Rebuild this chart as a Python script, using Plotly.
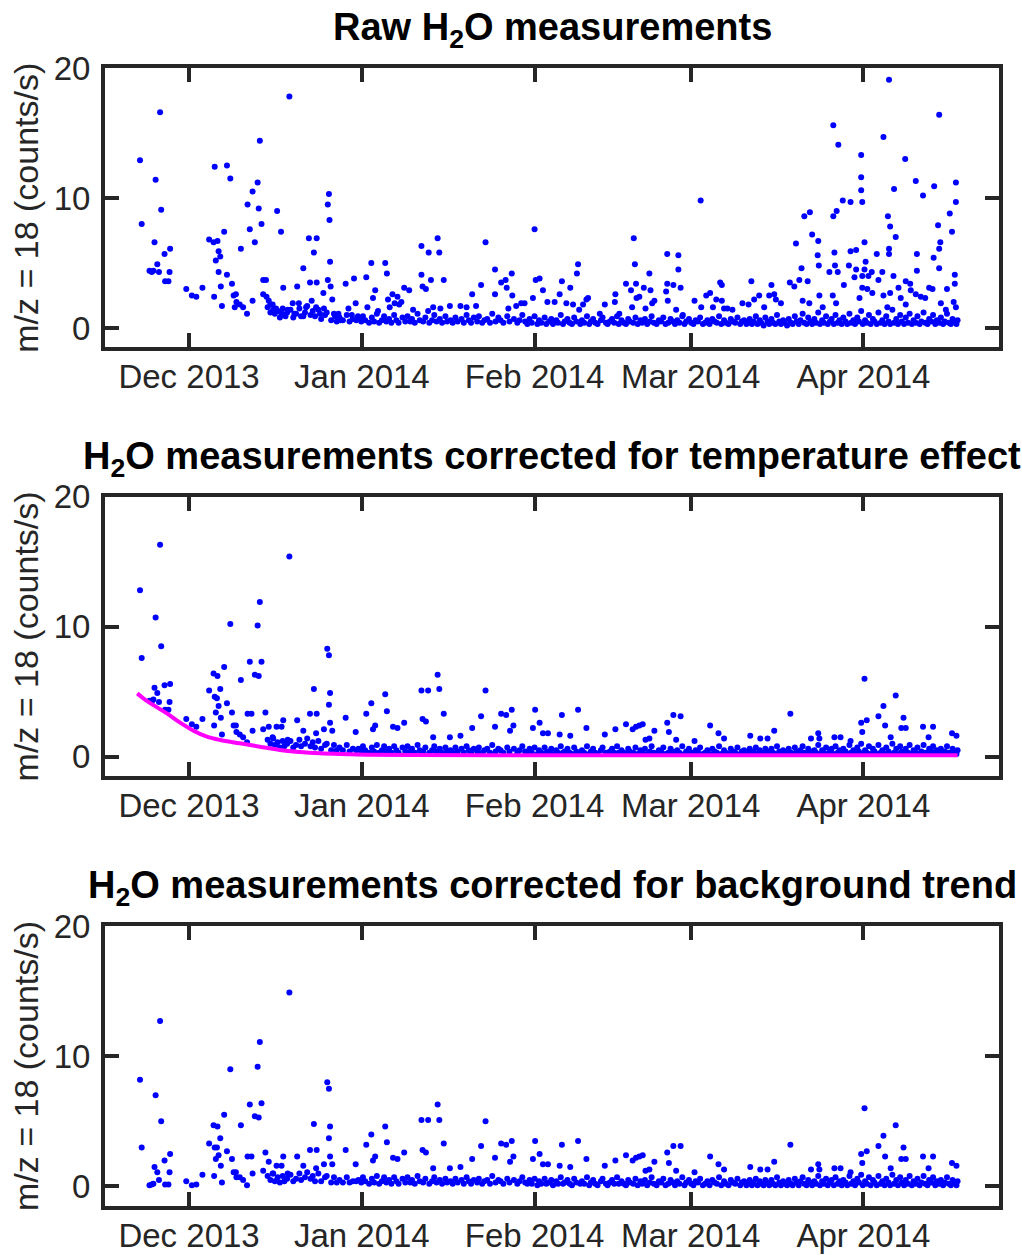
import pandas as pd
import plotly.graph_objects as go

# ---------------- DATA (days since 2013-12-01, counts/s) ----------------
# Panel 1: raw measurements (individually read points)
raw_days = [-8.8, -8.5, -7.1, -6.7, -6.4, -6.2, -6.0, -5.7, -5.4, -5.2, -5.0, -4.4, -4.3, -3.7, -3.5, -3.4,
            -0.5, 0.5, 1.3, 2.4, 3.6, 4.4, 4.5, 4.6, 4.8, 5.1, 5.3, 5.3, 5.6, 5.7, 5.9, 6.3, 6.8, 6.8, 7.4,
            7.7, 8.0, 8.2, 8.4, 8.5, 9.1, 9.3, 9.7, 10.4, 10.5, 10.9, 11.4, 11.4, 11.8, 12.3, 12.5, 12.7,
            13.0, 13.3, 13.3, 13.8, 13.9, 14.3, 14.6, 15.1, 15.6, 15.8, 16.5, 16.5, 16.9, 17.3, 17.7, 18.0,
            18.6, 18.9, 19.4, 19.7, 20.5, 20.5, 21.0, 21.5, 21.7, 22.0, 22.4, 22.8, 22.9, 22.9, 23.5, 24.1,
            24.2, 24.9, 24.9, 25.1, 25.2, 25.3, 25.4, 25.7, 26.2, 26.8, 27.2, 28.1, 28.6, 29.2, 29.6, 29.9,
            30.3, 31.8, 32.0, 32.7, 33.0, 33.4, 33.9, 35.2, 35.5, 35.7, 36.0, 36.5, 36.9, 37.4, 37.7, 38.1,
            38.6, 39.5, 40.2, 41.7, 41.7, 41.9, 42.5, 42.9, 43.0, 43.4, 43.8, 44.6, 44.9, 45.1, 45.7, 46.8,
            48.7, 49.8, 50.8, 51.5, 52.4, 53.2, 54.9, 54.9, 56.0, 56.8, 57.0, 57.3, 57.9, 58.0, 58.7, 59.6,
            60.2, 61.7, 62.0, 62.2, 62.9, 63.5, 64.3, 65.6, 66.5, 66.9, 67.7, 68.4, 68.9, 69.6, 69.8, 70.0,
            70.7, 71.3, 71.6, 73.7, 74.6, 76.4, 76.5, 77.2, 78.4, 79.3, 79.5, 79.8, 80.0, 80.2, 80.3, 80.8,
            81.6, 81.9, 82.6, 82.8, 83.1, 83.5, 85.6, 85.8, 85.8, 85.9, 86.9, 87.4, 87.8, 87.8, 88.2, 88.6,
            90.7, 91.8, 91.9, 92.8, 93.5, 94.0, 94.6, 95.3, 95.6, 95.6, 96.0, 96.6, 97.5, 99.3, 100.4, 100.9,
            101.4, 102.3, 103.2, 104.1, 104.5, 105.0, 105.3, 106.2, 107.8, 108.6, 108.9, 109.5, 109.9, 110.1,
            110.4, 111.0, 111.3, 111.4, 111.8, 112.8, 112.9, 113.0, 113.1, 113.7, 114.9, 115.5, 115.6, 115.6,
            115.8, 115.9, 116.1, 116.2, 116.4, 116.5, 117.3, 117.5, 118.4, 118.7, 118.7, 119.4, 119.7, 119.7,
            120.3, 120.6, 120.6, 120.6, 120.8, 120.8, 120.8, 121.2, 121.2, 121.4, 121.7, 121.9, 122.5, 122.6,
            123.4, 123.7, 124.4, 124.6, 124.6, 125.3, 125.4, 125.6, 125.6, 125.6, 125.8, 125.8, 126.4, 126.5,
            126.8, 127.3, 127.7, 128.5, 128.6, 128.6, 129.4, 129.5, 130.4, 130.4, 130.6, 130.6, 131.3, 131.7,
            132.1, 132.8, 133.4, 133.6, 133.7, 134.4, 134.6, 134.6, 134.6, 134.8, 134.9, 135.8, 136.0, 136.5,
            136.9, 137.2, 137.4, 137.4, 137.6, 137.6, 137.6]
raw_vals = [12.9, 8.0, 4.4, 4.3, 4.4, 6.6, 11.4, 4.9, 4.3, 16.6, 9.1, 5.7, 3.6, 3.6, 4.3, 6.1,
            3.0, 2.5, 2.4, 3.1, 6.8, 6.6, 2.4, 12.4, 5.2, 6.7, 5.9, 4.3, 5.5, 3.2, 1.7, 7.4, 12.5, 4.1, 11.5,
            3.4, 2.5, 1.6, 2.6, 2.0, 1.8, 6.1, 1.6, 1.1, 9.5, 7.6, 10.5, 2.1, 6.6, 11.2, 9.2, 14.4,
            8.0, 3.7, 2.6, 3.7, 2.4, 2.1, 1.8, 1.4, 1.5, 9.0, 7.4, 1.2, 3.1, 0.9, 1.4, 17.8,
            1.9, 1.1, 3.2, 1.9, 4.6, 0.9, 1.6, 6.9, 3.5, 2.1, 5.8, 1.6, 6.9, 3.5, 1.1, 2.7,
            1.5, 3.7, 9.5, 10.3, 8.3, 5.1, 3.2, 2.2, 0.9, 1.1, 0.6, 3.4, 1.5, 1.0, 3.8, 1.9,
            0.9, 3.9, 1.6, 5.0, 2.3, 2.9, 1.3, 5.0, 4.2, 2.2, 1.6, 2.6, 1.9, 2.4, 1.8, 2.0,
            3.1, 2.9, 1.4, 6.3, 4.1, 3.2, 3.0, 1.3, 5.8, 3.7, 1.6, 6.9, 5.8, 1.5, 3.7, 1.7,
            1.7, 1.6, 2.6, 1.7, 3.3, 6.6, 4.5, 2.6, 3.5, 3.7, 3.1, 1.5, 4.2, 2.5, 1.7, 1.9,
            1.9, 2.3, 7.6, 3.7, 3.8, 2.9, 2.0, 2.0, 2.6, 3.6, 1.9, 3.1, 1.8, 4.2, 4.9, 1.4,
            1.8, 2.2, 2.3, 1.1, 1.8, 2.0, 2.6, 1.1, 3.4, 2.9, 1.6, 6.9, 4.9, 3.4, 2.3, 2.4,
            3.1, 1.5, 4.2, 2.9, 1.9, 2.1, 2.8, 5.7, 3.4, 2.1, 3.3, 1.4, 5.6, 4.5, 3.1, 1.0,
            2.1, 9.8, 1.6, 2.5, 2.7, 1.6, 2.2, 3.5, 3.3, 2.1, 1.5, 1.5, 1.4, 1.9, 1.8, 3.6,
            2.2, 2.5, 1.6, 2.5, 3.3, 2.6, 2.2, 1.9, 3.5, 3.2, 6.5, 3.7, 4.6, 2.1,
            8.6, 3.6, 1.9, 8.9, 7.2, 5.6, 6.7, 4.8, 2.5, 1.6, 4.3, 2.5, 15.6, 8.6,
            5.8, 4.8, 1.9, 9.0, 4.3, 14.1, 9.8, 3.3, 4.8, 9.7, 5.9, 3.9, 6.0, 4.5,
            2.3, 13.3, 11.6, 10.6, 9.7, 4.0, 3.1, 6.6, 4.5, 5.1, 3.0, 4.0, 4.3, 2.7,
            5.7, 3.7, 4.3, 14.7, 2.5, 1.6, 8.6, 19.1, 6.1, 5.7, 7.8, 2.7, 4.0, 10.7,
            7.0, 3.1, 2.3, 13.0, 3.6, 1.8, 3.4, 2.9, 11.3, 2.6, 5.7, 4.4, 2.4, 10.2,
            2.3, 3.1, 3.0, 5.4, 10.9, 7.9, 16.4, 6.1, 4.6, 6.6, 1.9, 1.4, 3.0, 8.8,
            7.4, 2.0, 4.1, 3.4, 11.2, 9.7, 1.6]

# Panel 2: temperature-corrected (individually read points)
temp_days = [-8.8, -8.5, -7.1, -6.7, -6.4, -6.2, -6.0, -5.7, -5.4, -5.2, -5.0, -4.4, -4.3, -3.7, -3.5, -3.4,
             -0.5, 0.5, 1.3, 2.4, 3.6, 4.4, 4.5, 4.6, 4.8, 5.0, 5.1, 5.3, 5.6, 5.7, 5.9, 6.3, 6.8, 7.4,
             7.7, 8.0, 8.4, 8.5, 9.1, 9.3, 9.7, 10.4, 10.5, 10.9, 11.2, 11.4, 11.8, 12.3, 12.5, 12.7,
             13.0, 13.3, 13.7, 14.3, 15.1, 15.7, 16.6, 16.9, 17.7, 18.0, 19.4, 20.5, 21.7, 22.4, 22.9, 22.8,
             24.2, 24.8, 25.1, 25.3, 25.1, 25.3, 25.7, 28.1, 29.9, 31.8, 32.7, 33.4, 33.0, 35.2, 35.5, 36.6,
             37.4, 38.6, 41.7, 42.9, 41.9, 42.5, 44.9, 44.6, 45.7, 43.8, 46.8, 48.7, 50.8, 52.4, 53.2, 54.9,
             56.0, 56.9, 57.9, 58.2, 57.6, 61.7, 62.1, 62.9, 64.4, 63.5, 66.9, 66.5, 68.4, 69.8, 71.3, 74.6,
             76.5, 78.4, 79.6, 80.2, 80.8, 81.4, 81.9, 82.6, 83.5, 85.8, 86.9, 88.2, 86.1, 87.4, 90.7, 93.5,
             95.0, 96.0, 100.7, 102.5, 103.8, 105.0, 107.9, 111.6, 112.9, 113.1, 115.8, 116.9, 118.7, 120.6,
             121.2, 121.6, 120.8, 123.7, 124.6, 124.9, 125.9, 126.8, 128.2, 127.8, 128.6, 131.7, 132.7, 133.5,
             136.9, 137.7]
temp_vals = [12.8, 7.6, 4.3, 4.2, 4.4, 5.3, 10.7, 4.9, 4.2, 16.3, 8.5, 5.5, 3.6, 3.6, 4.2, 5.6,
             2.9, 2.5, 2.3, 2.9, 5.1, 6.4, 2.4, 4.6, 3.4, 4.5, 6.2, 3.9, 5.2, 3.0, 1.7, 6.9, 4.1, 10.2,
             3.4, 2.4, 2.4, 1.9, 1.7, 5.9, 1.5, 1.1, 3.3, 7.3, 3.3, 2.0, 6.3, 10.1, 6.2, 11.9,
             7.3, 2.1, 3.4, 2.3, 1.4, 2.3, 2.3, 2.8, 1.3, 15.4, 2.8, 2.0, 3.3, 5.2, 3.3, 1.8,
             2.1, 8.3, 7.8, 4.9, 4.0, 2.6, 2.0, 3.0, 1.9, 3.3, 4.1, 2.4, 2.1, 4.8, 3.5, 2.3,
             2.2, 2.6, 5.1, 5.1, 2.9, 2.7, 5.2, 6.3, 3.3, 1.5, 1.5, 1.6, 2.2, 3.1, 5.1, 2.3,
             3.3, 3.2, 3.6, 2.4, 2.0, 2.2, 3.6, 2.6, 1.8, 1.8, 3.2, 1.7, 1.6, 3.6, 2.2, 1.7,
             2.1, 2.5, 2.1, 2.3, 2.4, 2.5, 1.3, 1.4, 2.0, 2.6, 3.2, 3.1, 1.9, 1.3, 1.2, 2.4,
             1.8, 1.4, 1.6, 1.4, 1.4, 2.0, 3.3, 1.4, 1.8, 1.4, 1.5, 1.5, 1.2, 2.6,
             6.0, 2.8, 1.9, 3.1, 3.9, 2.4, 1.5, 4.7, 3.0, 2.2, 2.2, 2.3, 1.5, 2.3,
             1.8, 1.6]

# Panel 3: background-corrected (individually read points, same times as panel 2)
bg_days = temp_days
bg_vals = [8.2, 3.0, 0.1, 0.15, 0.2, 1.5, 7.0, 1.1, 0.5, 12.7, 5.0, 2.0, 0.15, 0.15, 1.1, 2.5,
           0.4, 0.1, 0.15, 0.9, 3.3, 4.7, 0.8, 3.0, 2.1, 3.0, 4.6, 2.4, 3.7, 1.6, 0.3, 5.5, 2.7, 9.0,
           2.1, 1.1, 1.1, 0.7, 0.7, 4.7, 0.5, 0.1, 2.3, 6.3, 2.3, 1.0, 5.4, 9.2, 5.3, 11.1,
           6.4, 1.2, 2.6, 1.9, 1.0, 1.6, 1.6, 2.3, 1.0, 14.9, 2.3, 1.6, 2.8, 4.8, 2.8, 1.4,
           1.7, 8.0, 7.5, 4.6, 3.7, 2.3, 1.7, 2.8, 1.7, 3.2, 4.0, 2.3, 2.0, 4.6, 3.4, 2.2,
           2.1, 2.6, 5.1, 5.1, 2.8, 2.6, 5.1, 6.3, 3.3, 1.4, 1.4, 1.5, 2.1, 3.1, 5.0, 2.2,
           3.3, 3.2, 3.5, 2.3, 1.9, 2.1, 3.5, 2.5, 1.7, 1.7, 3.2, 1.6, 1.5, 3.5, 2.1, 1.6,
           2.0, 2.4, 2.0, 2.2, 2.3, 2.4, 1.2, 1.3, 1.9, 2.6, 3.1, 3.1, 1.8, 1.2, 1.1, 2.3,
           1.7, 1.3, 1.5, 1.3, 1.3, 1.9, 3.2, 1.3, 1.7, 1.3, 1.4, 1.4, 1.1, 2.5,
           6.0, 2.7, 1.8, 3.1, 3.9, 2.3, 1.4, 4.7, 3.0, 2.1, 2.1, 2.3, 1.4, 2.3,
           1.8, 1.6]

# Dense low-level band shared by all three panels (days since 2013-12-01)
band_days = [14.1, 14.6, 15.0, 15.4, 15.9, 16.3, 16.8, 17.1, 17.6, 18.2, 18.7, 19.2, 19.8, 20.1, 20.8, 21.2,
             21.8, 22.2, 22.6, 23.2, 23.7, 24.4, 24.7, 25.5, 26.0, 26.5, 27.0, 27.6, 28.3, 28.8, 29.4, 30.0,
             30.4, 30.9, 31.2, 31.6, 32.3, 32.8, 33.2, 33.7, 34.1, 34.6, 35.0, 35.4, 35.9, 36.3, 36.8, 37.2,
             37.6, 38.3, 38.8, 39.2, 39.7, 40.0, 40.5, 41.0, 41.4, 42.0, 42.4, 43.1, 43.6, 44.0, 44.4, 45.0,
             45.4, 46.0, 46.3, 46.9, 47.3, 47.8, 48.2, 48.9, 49.3, 49.8, 50.2, 50.6, 51.1, 51.7, 52.0, 52.6,
             53.0, 53.5, 54.0, 54.4, 55.0, 55.5, 55.9, 56.4, 57.1, 57.5, 58.3, 58.9, 59.3, 59.8,
             60.3, 60.7, 61.1, 61.5, 62.0, 62.5, 62.8, 63.2, 63.8, 64.1, 64.6, 65.0, 65.3, 65.9, 66.2, 66.7,
             67.1, 67.4, 67.9, 68.3, 68.7, 69.1, 69.5, 70.2, 70.5, 70.9, 71.4, 71.8, 72.1, 72.5, 72.9, 73.3,
             73.9, 74.2, 74.8, 75.1, 75.5, 75.9, 76.3, 76.8, 77.1, 77.6, 78.0, 78.4, 78.8, 79.1, 79.7, 80.1,
             80.5, 81.0, 81.3, 81.8, 82.2, 82.7, 83.0, 83.4, 83.9, 84.3, 84.7, 85.1, 85.5, 86.0, 86.4, 86.8,
             87.2, 87.6, 88.0, 88.5, 88.9, 89.2, 89.7, 90.1, 90.5, 90.9, 91.3, 91.7, 92.2, 92.6, 93.0, 93.4,
             93.9, 94.3, 94.7, 95.1, 95.5, 96.0, 96.3, 96.8, 97.2, 97.6, 98.0, 98.4, 98.9, 99.2, 99.6, 100.0,
             100.3, 100.6, 101.0, 101.3, 101.7, 102.0, 102.4, 102.7, 103.1, 103.4, 103.8, 104.1, 104.5, 104.8,
             105.2, 105.5, 105.9, 106.2, 106.6, 106.9, 107.3, 107.6, 108.0, 108.3, 108.7, 109.0, 109.4, 109.7,
             110.1, 110.4, 110.8, 111.1, 111.5, 111.8, 112.2, 112.5, 112.9, 113.2, 113.6, 113.9, 114.3, 114.6,
             115.0, 115.3, 115.7, 116.0, 116.4, 116.7, 117.1, 117.4, 117.8, 118.1, 118.5, 118.8, 119.2, 119.5,
             119.9, 120.2, 120.6, 120.9, 121.3, 121.6, 122.0, 122.3, 122.7, 123.0, 123.4, 123.7, 124.1, 124.4,
             124.8, 125.1, 125.5, 125.8, 126.2, 126.5, 126.9, 127.2, 127.6, 127.9, 128.3, 128.6, 129.0, 129.3,
             129.7, 130.0, 130.4, 130.7, 131.1, 131.4, 131.8, 132.1, 132.5, 132.8, 133.2, 133.5, 133.9, 134.2,
             134.6, 134.9, 135.3, 135.6, 136.0, 136.3, 136.7, 137.0, 137.4, 137.7, 137.9]
band_raw = [1.6, 1.2, 1.8, 1.1, 1.3, 0.8, 1.5, 1.0, 1.2, 1.4, 0.8, 1.1, 1.5, 0.9, 1.2, 1.7,
            1.0, 1.3, 0.9, 1.4, 0.7, 1.0, 1.2, 0.6, 1.1, 0.5, 0.8, 0.6, 1.0, 0.5, 0.7, 0.6,
            0.7, 0.5, 0.9, 0.6, 0.4, 0.8, 0.5, 1.1, 0.4, 0.6, 0.9, 0.5, 0.7, 0.4, 1.0, 0.6,
            0.4, 0.8, 0.5, 0.9, 0.5, 0.7, 0.4, 1.1, 0.6, 0.5, 0.8, 0.4, 0.6, 1.0, 0.5, 0.7,
            0.4, 0.9, 0.5, 0.6, 0.4, 0.8, 0.5, 0.7, 0.4, 1.0, 0.6, 0.4, 0.8, 0.5, 0.9, 0.4,
            0.6, 0.7, 0.4, 1.1, 0.5, 0.8, 0.6, 0.4, 0.9, 0.5, 0.7, 0.4, 0.6, 1.0,
            0.5, 0.3, 0.7, 0.4, 0.9, 0.3, 0.6, 0.4, 0.8, 0.3, 0.5, 0.7, 0.3, 0.6, 0.4, 1.0,
            0.3, 0.5, 0.7, 0.4, 0.3, 0.8, 0.5, 0.3, 0.6, 0.4, 0.9, 0.3, 0.5, 0.7, 0.4, 0.3,
            0.6, 0.8, 0.4, 0.3, 0.5, 0.7, 0.4, 0.9, 0.3, 0.6, 0.4, 0.3, 0.7, 0.5, 0.4, 0.8,
            0.3, 0.6, 0.4, 0.7, 0.3, 0.5, 0.9, 0.4, 0.3, 0.6, 0.5, 0.8, 0.3, 0.4, 0.7, 0.5,
            0.3, 0.6, 0.4, 0.9, 0.3, 0.5, 0.7, 0.4, 0.3, 0.6, 0.5, 0.8, 0.3, 0.4, 0.6, 0.3,
            0.7, 0.5, 0.4, 0.9, 0.3, 0.6, 0.4, 0.3, 0.7, 0.5, 0.4, 0.8, 0.3, 0.5, 0.6, 0.3,
            0.4, 0.7, 0.3, 0.5, 0.9, 0.3, 0.6, 0.4, 0.2, 0.8, 0.5, 0.3, 0.7, 0.4,
            0.3, 1.0, 0.5, 0.3, 0.6, 0.4, 0.2, 0.7, 0.4, 0.3, 0.9, 0.5, 0.3, 0.6,
            1.1, 0.4, 0.3, 0.8, 0.5, 0.3, 0.7, 0.4, 1.2, 0.3, 0.6, 0.4, 0.9, 0.3,
            0.5, 0.7, 0.3, 1.0, 0.4, 0.6, 0.3, 0.8, 0.5, 0.3, 1.1, 0.4, 0.6, 0.3,
            0.8, 0.5, 1.3, 0.3, 0.6, 0.4, 1.0, 0.3, 0.7, 0.5, 0.3, 1.2, 0.4, 0.6,
            0.3, 0.9, 0.5, 0.3, 1.4, 0.4, 0.7, 0.3, 1.0, 0.5, 0.3, 0.8, 0.4, 1.1,
            0.3, 0.6, 0.4, 0.9, 0.3, 0.5, 1.2, 0.4, 0.3, 0.7, 0.5, 1.0, 0.3, 0.6,
            0.4, 0.8, 0.3, 0.5, 1.1, 0.4, 0.3, 0.7, 0.5, 0.3, 0.6]
band_temp = [1.3, 1.0, 1.5, 0.9, 1.1, 0.7, 1.2, 0.8, 1.0, 1.2, 0.7, 0.9, 1.3, 0.8, 1.0, 1.4,
             0.8, 1.1, 0.7, 1.2, 0.6, 0.9, 1.0, 0.5, 0.9, 0.5, 0.7, 0.5, 0.9, 0.4, 0.6, 0.5,
             0.6, 0.4, 0.8, 0.5, 0.3, 0.7, 0.4, 0.9, 0.3, 0.5, 0.8, 0.4, 0.6, 0.3, 0.8, 0.5,
             0.3, 0.7, 0.4, 0.8, 0.4, 0.6, 0.3, 0.9, 0.5, 0.4, 0.7, 0.3, 0.5, 0.8, 0.4, 0.6,
             0.3, 0.7, 0.4, 0.5, 0.3, 0.7, 0.4, 0.6, 0.3, 0.8, 0.5, 0.3, 0.6, 0.4, 0.7, 0.3,
             0.5, 0.6, 0.3, 0.9, 0.4, 0.6, 0.5, 0.3, 0.7, 0.4, 0.6, 0.3, 0.5, 0.8,
             0.4, 0.3, 0.6, 0.3, 0.7, 0.2, 0.5, 0.3, 0.7, 0.3, 0.4, 0.6, 0.2, 0.5, 0.3, 0.8,
             0.3, 0.4, 0.6, 0.3, 0.2, 0.7, 0.4, 0.3, 0.5, 0.3, 0.8, 0.2, 0.4, 0.6, 0.3, 0.2,
             0.5, 0.7, 0.3, 0.2, 0.4, 0.6, 0.3, 0.8, 0.3, 0.5, 0.3, 0.2, 0.6, 0.4, 0.3, 0.7,
             0.2, 0.5, 0.3, 0.6, 0.2, 0.4, 0.8, 0.3, 0.2, 0.5, 0.4, 0.7, 0.2, 0.3, 0.6, 0.4,
             0.2, 0.5, 0.3, 0.8, 0.2, 0.4, 0.6, 0.3, 0.2, 0.5, 0.4, 0.7, 0.2, 0.3, 0.5, 0.2,
             0.6, 0.4, 0.3, 0.8, 0.2, 0.5, 0.3, 0.2, 0.6, 0.4, 0.3, 0.7, 0.2, 0.4, 0.5, 0.2,
             0.3, 0.6, 0.2, 0.4, 0.7, 0.2, 0.5, 0.3, 0.2, 0.6, 0.4, 0.2, 0.6, 0.3,
             0.2, 0.8, 0.4, 0.2, 0.5, 0.3, 0.2, 0.6, 0.3, 0.2, 0.7, 0.4, 0.2, 0.5,
             0.8, 0.3, 0.2, 0.6, 0.4, 0.2, 0.5, 0.3, 0.9, 0.2, 0.5, 0.3, 0.7, 0.2,
             0.4, 0.6, 0.2, 0.8, 0.3, 0.5, 0.2, 0.6, 0.4, 0.2, 0.9, 0.3, 0.5, 0.2,
             0.7, 0.4, 1.0, 0.2, 0.5, 0.3, 0.8, 0.2, 0.6, 0.4, 0.2, 0.9, 0.3, 0.5,
             0.2, 0.7, 0.4, 0.2, 1.0, 0.3, 0.6, 0.2, 0.8, 0.4, 0.2, 0.6, 0.3, 0.9,
             0.2, 0.5, 0.3, 0.7, 0.2, 0.4, 0.9, 0.3, 0.2, 0.6, 0.4, 0.8, 0.2, 0.5,
             0.3, 0.6, 0.2, 0.4, 0.8, 0.3, 0.2, 0.6, 0.4, 0.2, 0.5]
band_bg = [0.8, 0.5, 1.0, 0.4, 0.7, 0.3, 0.8, 0.4, 0.6, 0.9, 0.4, 0.6, 1.0, 0.5, 0.7, 1.1,
           0.6, 0.8, 0.4, 1.0, 0.4, 0.7, 0.8, 0.3, 0.7, 0.3, 0.5, 0.3, 0.7, 0.3, 0.4, 0.4,
           0.5, 0.3, 0.7, 0.4, 0.2, 0.6, 0.3, 0.8, 0.2, 0.4, 0.7, 0.3, 0.5, 0.2, 0.7, 0.4,
           0.2, 0.6, 0.3, 0.7, 0.3, 0.5, 0.2, 0.8, 0.4, 0.3, 0.6, 0.2, 0.4, 0.7, 0.3, 0.5,
           0.2, 0.6, 0.3, 0.4, 0.2, 0.6, 0.3, 0.5, 0.2, 0.7, 0.4, 0.2, 0.5, 0.3, 0.6, 0.2,
           0.4, 0.5, 0.2, 0.8, 0.3, 0.5, 0.4, 0.2, 0.6, 0.3, 0.5, 0.2, 0.4, 0.7,
           0.3, 0.2, 0.5, 0.2, 0.6, 0.1, 0.4, 0.2, 0.6, 0.2, 0.3, 0.5, 0.1, 0.4, 0.2, 0.7,
           0.2, 0.3, 0.5, 0.2, 0.1, 0.6, 0.3, 0.2, 0.4, 0.2, 0.7, 0.1, 0.3, 0.5, 0.2, 0.1,
           0.4, 0.6, 0.2, 0.1, 0.3, 0.5, 0.2, 0.7, 0.2, 0.4, 0.2, 0.1, 0.5, 0.3, 0.2, 0.6,
           0.1, 0.4, 0.2, 0.5, 0.1, 0.3, 0.7, 0.2, 0.1, 0.4, 0.3, 0.6, 0.1, 0.2, 0.5, 0.3,
           0.1, 0.4, 0.2, 0.7, 0.1, 0.3, 0.5, 0.2, 0.1, 0.4, 0.3, 0.6, 0.1, 0.2, 0.4, 0.1,
           0.5, 0.3, 0.2, 0.7, 0.1, 0.4, 0.2, 0.1, 0.5, 0.3, 0.2, 0.6, 0.1, 0.3, 0.4, 0.1,
           0.2, 0.5, 0.1, 0.3, 0.6, 0.1, 0.4, 0.2, 0.1, 0.5, 0.3, 0.1, 0.5, 0.2,
           0.1, 0.7, 0.3, 0.1, 0.4, 0.2, 0.1, 0.5, 0.2, 0.1, 0.6, 0.3, 0.1, 0.4,
           0.7, 0.2, 0.1, 0.5, 0.3, 0.1, 0.4, 0.2, 0.8, 0.1, 0.4, 0.2, 0.6, 0.1,
           0.3, 0.5, 0.1, 0.7, 0.2, 0.4, 0.1, 0.5, 0.3, 0.1, 0.8, 0.2, 0.4, 0.1,
           0.6, 0.3, 0.9, 0.1, 0.4, 0.2, 0.7, 0.1, 0.5, 0.3, 0.1, 0.8, 0.2, 0.4,
           0.1, 0.6, 0.3, 0.1, 0.9, 0.2, 0.5, 0.1, 0.7, 0.3, 0.1, 0.5, 0.2, 0.8,
           0.1, 0.4, 0.2, 0.6, 0.1, 0.3, 0.8, 0.2, 0.1, 0.5, 0.3, 0.7, 0.1, 0.4,
           0.2, 0.5, 0.1, 0.3, 0.7, 0.2, 0.1, 0.5, 0.3, 0.1, 0.4]

# Background trend (magenta line) in panel 2
trend_days = [-9.3, -8.2, -6.4, -4.0, -1.6, 0.8, 3.2, 5.6, 9.1, 12.7, 16.3, 19.9, 23.5, 27.1,
              31.8, 40.0, 55.0, 75.0, 100.0, 120.0, 137.9]
trend_vals = [4.87, 4.49, 3.97, 3.33, 2.62, 2.0, 1.54, 1.28, 1.03, 0.77, 0.51, 0.36, 0.26, 0.2,
              0.15, 0.12, 0.1, 0.1, 0.1, 0.1, 0.1]

titles = ["<b>Raw H<sub>2</sub>O measurements</b>",
          "<b>H<sub>2</sub>O measurements corrected for temperature effect</b>",
          "<b>H<sub>2</sub>O measurements corrected for background trend</b>"]
tick_dates = ["2013-12-01", "2014-01-01", "2014-02-01", "2014-03-01", "2014-04-01"]
tick_labels = ["Dec 2013", "Jan 2014", "Feb 2014", "Mar 2014", "Apr 2014"]
y_ticks = [0, 10, 20]
x_range = ["2013-11-15 22:00", "2014-04-25 08:00"]
y_range = [-1.5, 20]
y_label = "m/z = 18 (counts/s)"

# ---------------- FIGURE ----------------
BASE = pd.Timestamp("2013-12-01")


def to_dates(days):
    return list(BASE + pd.to_timedelta(days, unit="D"))


def pairs(d1, v1, d2, v2):
    n1 = min(len(d1), len(v1))
    n2 = min(len(d2), len(v2))
    return to_dates(list(d1[:n1]) + list(d2[:n2])), list(v1[:n1]) + list(v2[:n2])


panels = [pairs(raw_days, raw_vals, band_days, band_raw),
          pairs(temp_days, temp_vals, band_days, band_temp),
          pairs(bg_days, bg_vals, band_days, band_bg)]

fig = go.Figure()
axis_ids = ["", "2", "3"]
for i, (xs, ys) in enumerate(panels):
    fig.add_trace(go.Scatter(x=xs, y=ys, mode="markers",
                             marker=dict(color="#0000ff", size=6, line=dict(width=0)),
                             xaxis="x" + axis_ids[i], yaxis="y" + axis_ids[i],
                             showlegend=False, hoverinfo="skip"))
    if i == 1:
        fig.add_trace(go.Scatter(x=to_dates(trend_days), y=trend_vals, mode="lines",
                                 line=dict(color="#ff00ff", width=4, shape="spline"),
                                 xaxis="x2", yaxis="y2", showlegend=False, hoverinfo="skip"))

AX = "#262626"
FONT = "Liberation Sans, Arial, Helvetica, sans-serif"
common = dict(showline=True, linewidth=4, linecolor=AX, mirror="ticks",
              ticks="inside", ticklen=14, tickwidth=4, tickcolor=AX,
              showgrid=False, zeroline=False,
              tickfont=dict(family=FONT, size=33, color=AX))

domains = [[0.7544, 1.0], [0.3777, 0.6233], [0.0, 0.2460]]
layout = dict(width=1022, height=1255, paper_bgcolor="white", plot_bgcolor="white",
              margin=dict(l=105, r=23, t=68, b=49), showlegend=False)
annotations = []
for i, dom in enumerate(domains):
    s = axis_ids[i]
    layout["xaxis" + s] = dict(common, type="date", range=x_range, tickvals=tick_dates,
                               ticktext=tick_labels, anchor="y" + s, domain=[0, 1],
                               ticklabelstandoff=-3, automargin=False)
    layout["yaxis" + s] = dict(common, range=y_range, tickvals=y_ticks, anchor="x" + s,
                               domain=dom, ticklabelstandoff=4, automargin=False,
                               title=dict(text=y_label, font=dict(family=FONT, size=34, color=AX),
                                          standoff=6))
    annotations.append(dict(text=titles[i], xref="paper", yref="paper", x=0.5, y=dom[1],
                            xanchor="center", yanchor="bottom", yshift=12, showarrow=False,
                            font=dict(family=FONT, size=38, color="black")))
layout["annotations"] = annotations
fig.update_layout(**layout)

fig.write_html("out.html")
